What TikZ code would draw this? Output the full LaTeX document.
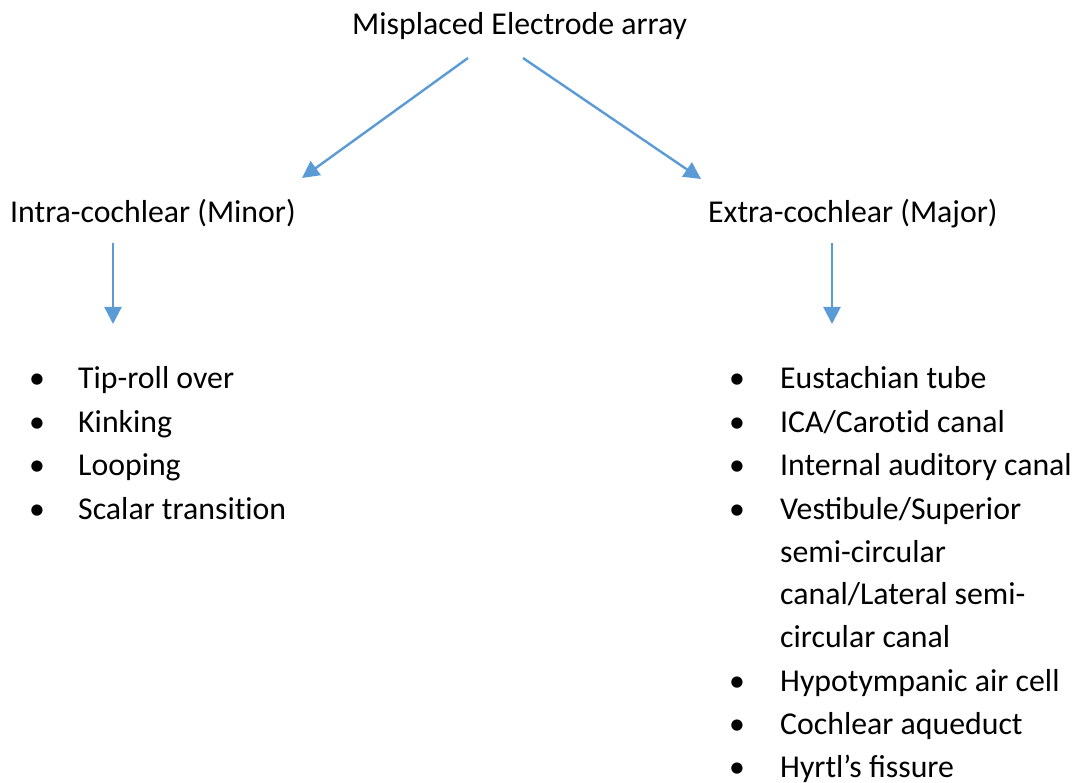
\documentclass[tikz,border=0pt]{standalone}
\usepackage{fontspec}
\setmainfont{Carlito}
\usetikzlibrary{arrows.meta}
\definecolor{arrowblue}{RGB}{91,155,213}
\tikzset{
  txt/.style={anchor=base west, inner sep=0pt, font=\fontsize{31.8}{43.5}\selectfont},
  bul/.style={anchor=base, inner sep=0pt, font=\fontsize{31.8}{43.5}\selectfont},
  conn/.style={draw=arrowblue, line width=2.4pt, -{Triangle[length=17pt,width=17pt]}}
}
\begin{document}
\begin{tikzpicture}[x=1pt,y=-1pt]
\useasboundingbox (0,0) rectangle (1077,783);
% headings
\node[txt] (title) at (352,35) {Misplaced Electrode array};
\node[txt] (intra) at (10,223) {Intra-cochlear (Minor)};
\node[txt] (extra) at (708,223) {Extra-cochlear (Major)};
% connector endpoints
\coordinate (t1) at (468,58);
\coordinate (i1) at (302,178);
\coordinate (t2) at (523,58);
\coordinate (e1) at (701,179);
\coordinate (i2) at (113,243);
\coordinate (i3) at (113,324);
\coordinate (e2) at (832,243);
\coordinate (e3) at (832,324);
\draw[conn] (t1) -- (i1);
\draw[conn] (t2) -- (e1);
\draw[conn] (i2) -- (i3);
\draw[conn] (e2) -- (e3);
% left list
\foreach \y/\t [count=\n] in {389/{Tip-roll over}, 433/{Kinking}, 476/{Looping}, 520/{Scalar transit\kern0pt ion}}{
  \node[bul] (lb\n) at (37,\y) {•};
  \node[txt] (lt\n) at (78,\y) {\t};
}
% right list
\foreach \y/\t [count=\n] in {389/{Eustachian tube}, 433/{ICA/Carot\kern0pt id canal}, 476/{Internal auditory canal}, 520/{Vestibule/Superior}, 691/{Hypotympanic air cell}, 734/{Cochlear aqueduct}, 777/{Hyrtl’s fissure}}{
  \node[bul] (rb\n) at (737,\y) {•};
  \node[txt] (rt\n) at (780,\y) {\t};
}
\node[txt] (rw1) at (780,562) {semi-circular};
\node[txt] (rw2) at (780,604) {canal/Lateral semi-};
\node[txt] (rw3) at (780,647) {circular canal};
\end{tikzpicture}
\end{document}
